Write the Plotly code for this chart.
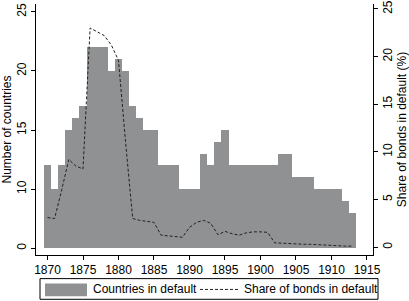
import numpy as np
import plotly.graph_objects as go

years = list(range(1870, 1914))
countries = [12, 10, 12, 15, 16, 17, 22, 22, 22, 20, 21, 20, 17, 16, 15, 15,
             12, 12, 12, 10, 10, 10, 13, 12, 14, 15,
             12, 12, 12, 12, 12, 12, 12, 13, 13, 11, 11, 11, 10, 10, 10, 10, 9, 8]
share = [3.1, 3.0, 6.0, 9.2, 8.5, 8.2, 23.0, 22.6, 22.2, 21.2, 19.6,
         11.0, 3.0, 2.8, 2.7, 2.6, 1.25, 1.2, 1.15, 1.03, 2.07,
         2.6, 2.8, 2.5, 1.3, 1.65, 1.4, 1.25, 1.5, 1.6, 1.6,
         1.55, 0.45, 0.4, 0.38, 0.35, 0.3, 0.3, 0.25, 0.2, 0.2, 0.15, 0.1, 0.1]
left_tickvals = [5, 10, 15, 20, 25]
left_ticktext = ["0", "10", "15", "20", "25"]
right_tickvals = [0, 5, 10, 15, 20, 25]
x_tickvals = list(range(1870, 1916, 5))

BASE = 5
BAR = "#8f9193"
FONT = "Liberation Sans, Arial, sans-serif"

fig = go.Figure()
fig.add_trace(go.Bar(x=years, y=[c - BASE for c in countries], base=BASE,
                     marker=dict(color=BAR, line=dict(width=0)),
                     width=1.0, showlegend=False, yaxis="y"))
fig.add_trace(go.Scatter(x=years, y=share, mode="lines",
                         line=dict(color="#222222", width=1, dash="3px,2px"),
                         showlegend=False, yaxis="y2"))

axcommon = dict(showgrid=False, zeroline=False, showline=True, linecolor="#000",
                linewidth=1, ticks="outside", ticklen=4, tickcolor="#000",
                tickfont=dict(family=FONT, size=12, color="#000"))

fig.update_layout(
    width=409, height=301,
    margin=dict(l=36, r=36, t=0, b=46),
    paper_bgcolor="white", plot_bgcolor="white",
    bargap=0,
    font=dict(family=FONT, size=12, color="#000"),
    xaxis=dict(range=[1868.38, 1915.85], tickvals=x_tickvals, **axcommon),
    yaxis=dict(range=[4.417, 25.667], tickvals=left_tickvals, ticktext=left_ticktext,
               tickangle=-90, ticklabeloverflow="allow",
               title=dict(text="Number of countries", font=dict(family=FONT, size=12), standoff=4),
               **axcommon),
    yaxis2=dict(range=[-0.83, 25.52], tickvals=right_tickvals, overlaying="y", side="right",
                tickangle=-90, ticklabeloverflow="allow",
                title=dict(text="Share of bonds in default (%)", font=dict(family=FONT, size=12), standoff=4),
                **axcommon),
)

def px(x):
    return (x - 36) / 337.0

def py(y):
    return (255 - y) / 255.0

shapes = [
    dict(type="rect", xref="paper", yref="paper", x0=px(40), x1=px(378), y0=py(300), y1=py(279),
         line=dict(color="#000", width=1), fillcolor="white"),
    dict(type="rect", xref="paper", yref="paper", x0=px(45), x1=px(87), y0=py(297), y1=py(284),
         line=dict(width=0), fillcolor=BAR),
    dict(type="line", xref="paper", yref="paper", x0=px(200), x1=px(239), y0=py(290), y1=py(290),
         line=dict(color="#222222", width=1, dash="3px,2px")),
]
fig.update_layout(shapes=shapes)
fig.add_annotation(text="Countries in default", xref="paper", yref="paper", x=px(91), y=py(290),
                   xanchor="left", yanchor="middle", showarrow=False,
                   font=dict(family=FONT, size=12, color="#000"))
fig.add_annotation(text="Share of bonds in default", xref="paper", yref="paper", x=px(242), y=py(290),
                   xanchor="left", yanchor="middle", showarrow=False,
                   font=dict(family=FONT, size=12, color="#000"))

fig.write_html("out.html")
